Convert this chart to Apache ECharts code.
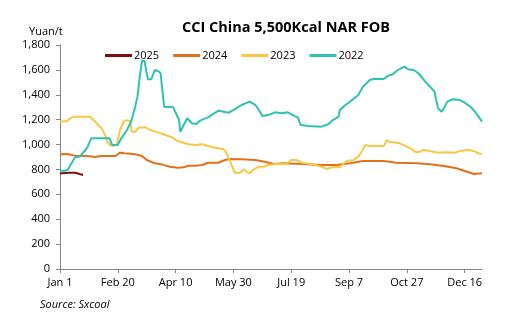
<!DOCTYPE html>
<html>
<head>
<meta charset="utf-8">
<script src="https://cdn.jsdelivr.net/npm/echarts@6/dist/echarts.min.js"></script>
<style>html,body{margin:0;padding:0;background:#fff;}#c{width:515px;height:321px;}</style>
</head>
<body>
<div id="c"></div>
<script>
// Day offsets from Jan 1 and CCI values (Yuan/t)
var days2025 = [0, 7, 13, 17, 20];
var vals2025 = [768, 774, 774, 763, 755];

var days2024 = [0, 6, 13, 24, 30, 36, 48, 52, 56, 65, 71, 75, 82, 88, 95, 102, 107, 111, 117, 123, 128, 137, 141, 146, 157, 169, 177, 185, 193, 210, 225, 239, 251, 262, 280, 291, 309, 320, 332, 343, 352, 358, 365];
var vals2024 = [922, 924, 911, 908, 900, 908, 908, 935, 930, 922, 908, 876, 849, 841, 822, 814, 817, 830, 830, 836, 854, 854, 870, 884, 881, 876, 862, 844, 849, 844, 836, 836, 849, 868, 868, 854, 849, 841, 828, 809, 782, 763, 769];

var days2023 = [0, 6, 9, 12, 26, 29, 33, 36, 39, 41, 43, 46, 49, 52, 55, 58, 61, 62, 65, 68, 74, 78, 85, 91, 97, 101, 104, 111, 117, 123, 128, 134, 141, 143, 146, 149, 151, 156, 159, 161, 164, 167, 172, 176, 180, 185, 188, 196, 200, 205, 209, 219, 226, 231, 235, 242, 248, 254, 258, 261, 264, 268, 280, 283, 285, 294, 300, 303, 307, 310, 314, 319, 323, 327, 335, 342, 347, 353, 357, 362, 365];
var vals2023 = [1184, 1189, 1211, 1224, 1224, 1197, 1157, 1131, 1077, 1023, 997, 990, 997, 1117, 1184, 1197, 1184, 1103, 1103, 1136, 1139, 1117, 1098, 1077, 1058, 1031, 1023, 1002, 997, 1002, 988, 975, 964, 950, 889, 822, 774, 774, 801, 785, 769, 796, 822, 822, 836, 841, 844, 844, 876, 876, 854, 841, 822, 804, 817, 817, 868, 876, 903, 943, 997, 988, 988, 1037, 1023, 1010, 983, 970, 943, 938, 956, 951, 943, 935, 938, 935, 951, 956, 951, 930, 924];

var days2022 = [0, 4, 7, 9, 13, 17, 22, 24, 27, 43, 45, 50, 53, 58, 62, 65, 67, 69, 71, 73, 76, 79, 82, 85, 87, 90, 98, 99, 103, 104, 107, 110, 114, 118, 121, 128, 137, 146, 151, 157, 164, 169, 172, 175, 180, 186, 192, 197, 203, 206, 208, 215, 226, 232, 236, 241, 242, 247, 252, 258, 262, 268, 271, 280, 284, 288, 291, 296, 298, 301, 306, 310, 316, 320, 324, 325, 327, 330, 332, 335, 340, 346, 350, 355, 359, 362, 365];
var vals2022 = [790, 790, 800, 836, 898, 903, 956, 983, 1050, 1050, 997, 997, 1050, 1117, 1197, 1304, 1385, 1546, 1674, 1674, 1525, 1525, 1599, 1590, 1573, 1304, 1299, 1278, 1197, 1103, 1157, 1211, 1171, 1165, 1192, 1219, 1272, 1256, 1283, 1318, 1345, 1318, 1278, 1229, 1237, 1259, 1251, 1259, 1229, 1216, 1157, 1149, 1144, 1163, 1197, 1224, 1278, 1318, 1353, 1398, 1465, 1519, 1527, 1527, 1554, 1565, 1591, 1618, 1626, 1605, 1599, 1573, 1506, 1465, 1425, 1372, 1291, 1264, 1291, 1345, 1364, 1358, 1337, 1304, 1264, 1224, 1184];

var tickDays = [0, 50, 100, 150, 200, 250, 300, 350];
var tickLabels = ['Jan 1', 'Feb 20', 'Apr 10', 'May 30', 'Jul 19', 'Sep 7', 'Oct 27', 'Dec 16'];

var seriesNames = ['2025', '2024', '2023', '2022'];
var seriesColors = ['#7f0f0f', '#e4701a', '#f7c843', '#2ec2b2'];

function pairs(d, v) { return d.map(function (x, i) { return [x, v[i]]; }); }
var allData = [pairs(days2025, vals2025), pairs(days2024, vals2024), pairs(days2023, vals2023), pairs(days2022, vals2022)];

var FONT = 'Open Sans';
var chart = echarts.init(document.getElementById('c'));
chart.setOption({
  animation: false,
  backgroundColor: '#ffffff',
  textStyle: { fontFamily: FONT },
  title: [
    { text: 'CCI China 5,500Kcal NAR FOB', left: 281, top: 15, textAlign: 'center',
      textStyle: { fontFamily: FONT, fontSize: 14.5, fontWeight: 'bold', color: '#000' } },
    { text: 'Yuan/t', left: 24, top: 21, textStyle: { fontFamily: FONT, fontSize: 11, fontWeight: 'normal', color: '#000' } },
    { text: 'Source: Sxcoal', left: 35, top: 294, textStyle: { fontFamily: FONT, fontSize: 11, fontStyle: 'italic', fontWeight: 'normal', color: '#000' } }
  ],
  legend: {
    left: 100, top: 45, itemGap: 14, itemWidth: 27, itemHeight: 3, icon: 'rect',
    textStyle: { fontFamily: FONT, fontSize: 11, color: '#000', padding: [0, 0, 0, -3] },
    data: seriesNames
  },
  grid: { left: 60, right: 33, top: 45, bottom: 52 },
  xAxis: {
    type: 'value', min: 0, max: 365, interval: 50,
    splitLine: { show: false },
    axisLine: { show: true, lineStyle: { color: '#868686', width: 1 } },
    axisTick: { show: true, length: 4, lineStyle: { color: '#868686' }, customValues: tickDays },
    axisLabel: { fontFamily: FONT, fontSize: 11, color: '#000', margin: 8, customValues: tickDays,
      formatter: function (v) { var i = tickDays.indexOf(v); return i >= 0 ? tickLabels[i] : ''; } }
  },
  yAxis: {
    type: 'value', min: 0, max: 1800, interval: 200,
    splitLine: { show: false },
    axisLine: { show: true, lineStyle: { color: '#868686', width: 1 } },
    axisTick: { show: true, length: 4, lineStyle: { color: '#868686' } },
    axisLabel: { fontFamily: FONT, fontSize: 11, color: '#000', margin: 10,
      formatter: function (v) { return v.toLocaleString('en-US'); } }
  },
  series: seriesNames.map(function (n, i) {
    return { name: n, type: 'line', data: allData[i], showSymbol: false, symbol: 'none',
      lineStyle: { color: seriesColors[i], width: 2 }, itemStyle: { color: seriesColors[i] } };
  })
});
</script>
</body>
</html>
